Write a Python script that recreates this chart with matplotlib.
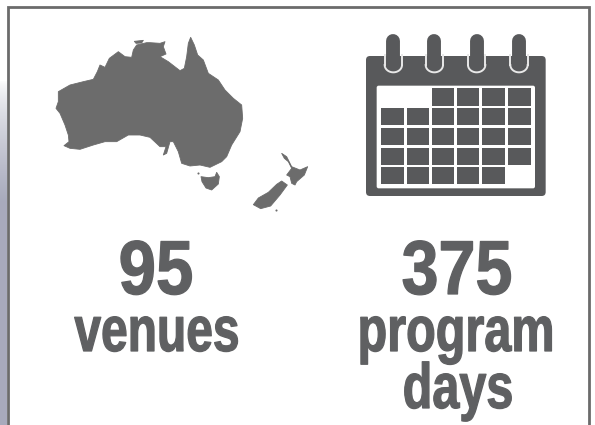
import numpy as np
import matplotlib
matplotlib.use('Agg')
import matplotlib.pyplot as plt
import matplotlib.patheffects as pe
from matplotlib.patches import Polygon, Rectangle, FancyBboxPatch
from matplotlib.transforms import Affine2D

# outlines, in 3x zoom pixels
AUSTRALIA = [(175,275),(210,255),(250,245),(280,238),(292,215),(300,195),(315,202),(328,175),(355,155),
             (375,170),(395,172),(400,150),(410,135),(440,128),(450,128),(480,130),(495,125),(490,140),
             (498,162),(480,170),(505,185),(540,212),(553,205),(560,170),(565,130),(572,112),(583,135),
             (593,165),(610,180),(625,220),(655,240),(675,270),(700,295),(725,315),(728,355),(720,395),
             (695,435),(680,470),(665,485),(630,502),(600,495),(570,498),(545,490),(535,455),(520,425),
             (510,425),(500,460),(490,465),(498,440),(480,440),(450,412),(420,405),(385,405),(350,425),
             (315,425),(280,435),(240,448),(210,445),(192,437),(207,425),(205,405),(195,375),(180,340),
             (168,325),(175,305)]
MELVILLE = [(403,124),(430,121),(425,129),(408,130)]
TASMANIA = [(603,530),(625,533),(645,530),(650,517),(658,530),(655,552),(635,570),(618,564),(606,545)]
NZ_NORTH = [(845,460),(860,470),(875,500),(900,510),(923,500),(913,525),(890,545),(885,555),(875,550),
            (870,530),(860,525),(875,505),(865,485),(853,475)]
NZ_SOUTH = [(845,543),(862,555),(840,585),(812,618),(782,626),(760,614),(775,594),(805,577),(830,553)]
ISLETS = [(827,630),(595,518)]

# calendar cells, 1 = filled day
CAL_DAYS = [[0, 0, 1, 1, 1, 1],
            [1, 1, 1, 1, 1, 1],
            [1, 1, 1, 1, 1, 1],
            [1, 1, 1, 1, 1, 1],
            [1, 1, 1, 1, 1, 0]]
CAL_COLS = [(92,162),(170,238),(245,312),(320,388),(397,465),(473,542)]
CAL_ROWS = [(205,257),(265,315),(323,375),(383,435),(440,493)]
RING_X = [130, 253, 380, 507]

VENUES_NUM = '95'
VENUES_LABEL = 'venues'
DAYS_NUM = '375'
DAYS_LABEL = ['program', 'days']

MAP_GREY = '#6c6c6c'
CAL_GREY = '#58595b'
TEXT_GREY = '#5f6062'
FONT = 'Liberation Sans'


class Condense(pe.AbstractPathEffect):
    # squeeze glyphs sideways about a fixed x, no narrow bold font is installed
    def __init__(self, cx, sx, stroke):
        super().__init__()
        self.cx = cx
        self.sx = sx
        self.stroke = stroke

    def draw_path(self, renderer, gc, tpath, affine, rgbFace=None):
        squeeze = Affine2D().translate(-self.cx, 0).scale(self.sx, 1).translate(self.cx, 0)
        gc0 = renderer.new_gc()
        gc0.copy_properties(gc)
        gc0.set_linewidth(self.stroke)
        gc0.set_foreground(TEXT_GREY)
        renderer.draw_path(gc0, tpath, affine + squeeze, rgbFace)
        gc0.restore()


def label(ax, x, y, s, size, sx, stroke=0.9):
    ax.text(x, y, s, family=FONT, weight='bold', fontsize=size, color=TEXT_GREY, ha='center', va='baseline',
            path_effects=[Condense(x, sx, stroke)])


fig = plt.figure(figsize=(5.95, 4.25), dpi=100)
ax = fig.add_axes([0, 0, 1, 1])
ax.set_xlim(0, 595)
ax.set_ylim(425, 0)
ax.axis('off')

# blue-grey strip left of the frame
strip = np.clip(np.linspace(0, 1, 340) / 0.35, 0, 1).reshape(-1, 1, 1) ** 0.7
strip = 1 - strip * (1 - np.array([0.66, 0.67, 0.74]).reshape(1, 1, 3))
ax.imshow(strip, extent=[0, 6.5, 425, 80], aspect='auto', zorder=0)
ax.set_xlim(0, 595)
ax.set_ylim(425, 0)

# frame, open at the bottom
ax.plot([7.5, 7.5, 589, 589], [425, 7, 7, 425], color='#6b6b6b', lw=2.0, solid_joinstyle='miter', zorder=1)

# map
for shape in [AUSTRALIA, MELVILLE, TASMANIA, NZ_NORTH, NZ_SOUTH]:
    pts = np.array(shape) / 3.0
    ax.add_patch(Polygon(pts, closed=True, facecolor=MAP_GREY, edgecolor=MAP_GREY, lw=0.6, joinstyle='round', zorder=2))
for px, py in ISLETS:
    ax.plot([px / 3.0], [py / 3.0], 'o', ms=1.5, mew=0, color=MAP_GREY, zorder=2)


def zx(v):
    return 350 + v / 3.0


def zy(v):
    return 20 + v / 3.0


# calendar
ax.add_patch(FancyBboxPatch((zx(48) + 3, zy(108) + 3), (587 - 48) / 3.0 - 6, (528 - 108) / 3.0 - 6,
                            boxstyle='round,pad=3,rounding_size=4', facecolor=CAL_GREY, edgecolor='none', zorder=2))
ax.add_patch(FancyBboxPatch((zx(80) + 2, zy(197) + 2), (555 - 80) / 3.0 - 4, (505 - 197) / 3.0 - 4,
                            boxstyle='round,pad=2,rounding_size=2', facecolor='white', edgecolor='none', zorder=3))
for r, row in enumerate(CAL_DAYS):
    for c, on in enumerate(row):
        if on:
            x0, x1 = CAL_COLS[c]
            y0, y1 = CAL_ROWS[r]
            ax.add_patch(Rectangle((zx(x0), zy(y0)), (x1 - x0) / 3.0, (y1 - y0) / 3.0,
                                   facecolor=CAL_GREY, edgecolor='none', zorder=4))
for rx in RING_X:
    # white halo then dark ring
    ax.plot([zx(rx - 26), zx(rx - 26)], [zy(105), zy(135)], color='#e8e8e8', lw=1.4, zorder=3)
    ax.plot([zx(rx + 26), zx(rx + 26)], [zy(105), zy(135)], color='#e8e8e8', lw=1.4, zorder=3)
    t = np.linspace(0, np.pi, 30)
    ax.plot(zx(rx + 26 * np.cos(t)), zy(135 + 22 * np.sin(t)), color='#e8e8e8', lw=1.4, zorder=3)
    ax.plot([zx(rx), zx(rx)], [zy(63), zy(130)], color=CAL_GREY, lw=10, solid_capstyle='round', zorder=4)

# text
label(ax, 156, 294, VENUES_NUM, 55, 0.88)
label(ax, 157, 351, VENUES_LABEL, 46, 0.75)
label(ax, 457, 294, DAYS_NUM, 55, 0.87)
label(ax, 456, 351, DAYS_LABEL[0], 46, 0.76)
label(ax, 458, 408, DAYS_LABEL[1], 46, 0.76)

fig.savefig('out.png', dpi=100)
